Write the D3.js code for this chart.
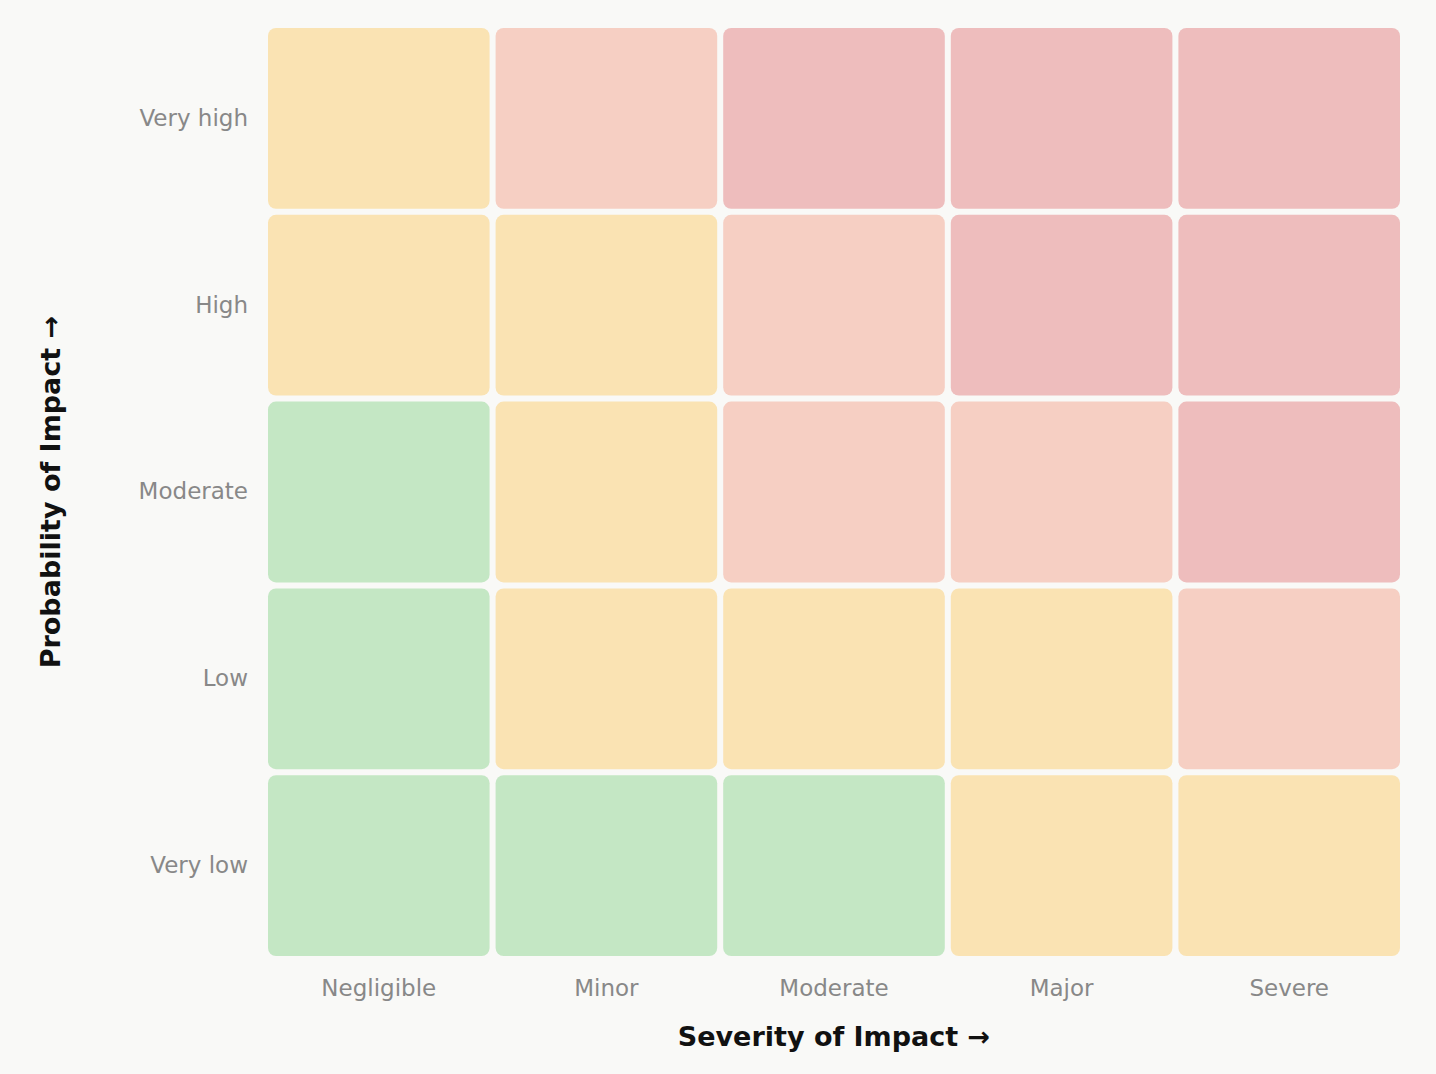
<!DOCTYPE html>
<html>
<head>
<meta charset="utf-8">
<script src="https://cdn.jsdelivr.net/npm/d3@7"></script>
<style>
  body { margin: 0; background: #f9f9f7; }
  svg { display: block; font-family: "DejaVu Sans", sans-serif; }
</style>
</head>
<body>
<div id="chart-area"></div>
<script>
// categories
const severity = ["Negligible", "Minor", "Moderate", "Major", "Severe"];
const probability = ["Very high", "High", "Moderate", "Low", "Very low"];

// risk level per cell, rows follow probability (top to bottom), cols follow severity
const riskLevels = [
    [2, 3, 4, 4, 4],
    [2, 2, 3, 4, 4],
    [1, 2, 3, 3, 4],
    [1, 2, 2, 2, 3],
    [1, 1, 1, 2, 2]
];

const levelColors = ["#c4e7c4", "#fae3b3", "#f6cfc3", "#eebdbd"];

const W = 1436, H = 1074;
const margin = { left: 265, right: 33, top: 25, bottom: 115 };

const svg = d3.select("#chart-area")
    .append("svg")
    .attr("width", W)
    .attr("height", H);

svg.append("rect")
    .attr("width", W).attr("height", H)
    .attr("fill", "#f9f9f7");

const x = d3.scaleBand()
    .domain(severity)
    .range([margin.left, W - margin.right]);

const y = d3.scaleBand()
    .domain(probability)
    .range([margin.top, H - margin.bottom]);

const color = d3.scaleOrdinal()
    .domain([1, 2, 3, 4])
    .range(levelColors);

const cells = [];
riskLevels.forEach(function(row, i){
    row.forEach(function(v, j){
        cells.push({ prob: probability[i], sev: severity[j], level: v });
    });
});

const inset = 3;
svg.append("g")
    .selectAll("rect")
    .data(cells)
    .enter()
    .append("rect")
        .attr("x", function(d){ return x(d.sev) + inset; })
        .attr("y", function(d){ return y(d.prob) + inset; })
        .attr("width", x.bandwidth() - 2 * inset)
        .attr("height", y.bandwidth() - 2 * inset)
        .attr("rx", 8)
        .attr("ry", 8)
        .attr("fill", function(d){ return color(d.level); });

// x axis labels
const xAxis = svg.append("g")
    .attr("transform", "translate(0," + (H - margin.bottom) + ")")
    .call(d3.axisBottom(x).tickSize(0).tickPadding(21));
xAxis.select(".domain").remove();
xAxis.selectAll("text")
    .attr("font-size", "23px")
    .attr("font-family", "DejaVu Sans, sans-serif")
    .attr("fill", "#888888");

// y axis labels
const yAxis = svg.append("g")
    .attr("transform", "translate(" + margin.left + ",0)")
    .call(d3.axisLeft(y).tickSize(0).tickPadding(17));
yAxis.select(".domain").remove();
yAxis.selectAll("text")
    .attr("font-size", "23px")
    .attr("font-family", "DejaVu Sans, sans-serif")
    .attr("fill", "#888888");

// X Label
svg.append("text")
    .attr("x", (margin.left + W - margin.right) / 2)
    .attr("y", 1046)
    .attr("font-size", "27px")
    .attr("font-weight", "bold")
    .attr("text-anchor", "middle")
    .attr("fill", "#111")
    .text("Severity of Impact \u2192");

// Y Label
svg.append("text")
    .attr("x", -((margin.top + H - margin.bottom) / 2))
    .attr("y", 60)
    .attr("font-size", "27px")
    .attr("font-weight", "bold")
    .attr("text-anchor", "middle")
    .attr("transform", "rotate(-90)")
    .attr("fill", "#111")
    .text("Probability of Impact \u2192");
</script>
</body>
</html>
